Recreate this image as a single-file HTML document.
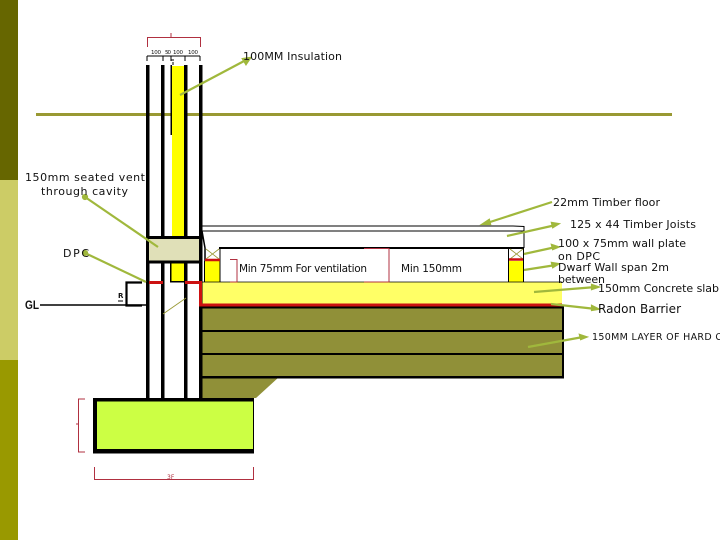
<!DOCTYPE html>
<html><head><meta charset="utf-8"><style>
html,body{margin:0;padding:0;background:#fff}
svg{display:block}
text{font-family:"DejaVu Sans",sans-serif;font-size:11px;fill:#111}
</style></head><body>
<svg width="720" height="540" viewBox="0 0 720 540" xmlns="http://www.w3.org/2000/svg">
<rect x="0" y="0" width="18" height="180" fill="#666600"/>
<rect x="0" y="180" width="18" height="180" fill="#cccc66"/>
<rect x="0" y="360" width="18" height="180" fill="#999900"/>
<rect x="36" y="113" width="636" height="3" fill="#999933"/>

<!-- fills -->
<rect x="172" y="66" width="12" height="172" fill="#ffff00"/>
<rect x="171" y="262" width="13" height="20" fill="#ffff00"/>
<rect x="201" y="282" width="361" height="24" fill="#ffff66"/>
<rect x="201" y="306" width="362" height="71" fill="#909038"/>
<polygon points="201,377 279,377 256,398 201,398" fill="#909038"/>
<rect x="205" y="261" width="15" height="21" fill="#ffff00"/>
<rect x="509" y="261" width="14" height="21" fill="#ffff00"/>

<!-- walls -->
<g fill="#000">
<rect x="146" y="65" width="3.500" height="333"/>
<rect x="161" y="65" width="3.500" height="333"/>
<rect x="184" y="65" width="3.500" height="333"/>
<rect x="199" y="65" width="3.500" height="333"/>
<rect x="170.500" y="65" width="1.500" height="70"/>
<rect x="170" y="262" width="1.500" height="20"/>
<rect x="170" y="281" width="15" height="1.500"/>
</g>
<rect x="149" y="238" width="50" height="24" fill="#e0e0b8"/>
<g fill="#000">
<rect x="146" y="236" width="56" height="3"/>
<rect x="146" y="260.500" width="56" height="3"/>
<!-- hardcore lines -->
<rect x="201" y="306.500" width="362" height="2"/>
<rect x="201" y="330" width="362" height="2"/>
<rect x="201" y="353" width="362" height="2"/>
<rect x="201" y="376" width="363" height="2.500"/>
<rect x="562" y="306" width="2" height="72"/>
<!-- foundation -->
<rect x="93" y="398" width="161" height="55.500"/>
</g>
<rect x="97" y="401.500" width="156" height="47.500" fill="#ccff44"/>

<!-- floor -->
<g fill="none" stroke="#000">
<path d="M202 226H513L524 226.500V248" stroke-width="1"/>
<path d="M202 231H524" stroke-width="1"/>
<path d="M219 248H524" stroke-width="2"/>
<path d="M202 231L205 248V261" stroke-width="1.500"/>
<path d="M220 248V282M508.500 248V282M523.500 248V282M204.500 261V282" stroke-width="1"/>
<path d="M202 282H562" stroke-width="0.800"/>
</g>
<g stroke="#999933" stroke-width="0.800" fill="none">
<path d="M206 249L219 259M219 249L206 259M510 249L523 259M523 249L510 259"/>
<path d="M163 314L186 298"/>
</g>
<!-- red -->
<g fill="none" stroke="#cc1111">
<path d="M149 282.500H163M185 282.500H200.500V305H562" stroke-width="3"/>
<path d="M205 260H220M509 259.500H523" stroke-width="2.500"/>
</g>
<!-- red dimensions -->
<g fill="none" stroke="#b03040" stroke-width="1">
<path d="M147.500 47V37.500H200.500V47M171 37V33"/>
<path d="M230 259.500H237V282H230"/>
<path d="M364 248.500H389V282H364"/>
<path d="M85 399H78.500V452H85M78.500 424H76"/>
<path d="M94.500 467V479.500H253.500V467"/>
</g>
<text x="167" y="479" style="font-size:6px;fill:#b03040">3F</text>

<!-- black dims -->
<g fill="none" stroke="#000" stroke-width="1">
<path d="M147 56H200M147 56V61M163 56V61M185 56V61M200 56V61M171 56V61"/>
<path d="M173 62V65M171.500 60H174"/>
</g>
<text x="151" y="54" style="font-size:5.500px" textLength="10">100</text>
<text x="165" y="54" style="font-size:5.500px" textLength="6">50</text>
<text x="173" y="54" style="font-size:5.500px" textLength="10">100</text>
<text x="188" y="54" style="font-size:5.500px" textLength="10">100</text>

<!-- GL -->
<path d="M40 305H147" stroke="#000" stroke-width="1.500"/>
<path d="M142 282.500H126.500V305.500H142" fill="none" stroke="#000" stroke-width="2.200"/>
<text x="118" y="298" style="font-size:7px;font-weight:bold">R</text>
<path d="M118 301H123" stroke="#000"/>
<text x="25" y="309" style="font-family:'Liberation Sans',sans-serif;font-size:12px;font-weight:bold" textLength="14" lengthAdjust="spacingAndGlyphs">GL</text>

<!-- leaders -->
<g stroke="#a0b83c" stroke-width="2.200" fill="#a0b83c">
<path d="M180 95L246 60"/><polygon points="250,58 243,59 246,64"/>
<path d="M85 197L158 247"/><circle cx="85" cy="197" r="2"/>
<path d="M85 253L146 282"/><circle cx="85" cy="253" r="2"/>
<path d="M487 223L552 202"/><polygon points="483,224 489,220 490,224"/>
<path d="M507 236L556 225"/><polygon points="558,224 552,223 553,227"/>
<path d="M524 254L556 247"/><polygon points="558,247 552,245 553,249"/>
<path d="M524 270L556 265"/><polygon points="558,264 552,263 553,267"/>
<path d="M534 292L596 287"/><polygon points="598,287 592,285 592,289"/>
<path d="M551 304L596 309"/><polygon points="598,309 592,306 592,310"/>
<path d="M528 347L583 337"/><polygon points="586,337 580,335 581,339"/>
</g>

<!-- labels -->
<text x="243" y="60" textLength="99">100MM Insulation</text>
<text x="25" y="181" textLength="120">150mm seated vent</text>
<text x="41" y="195" textLength="87">through cavity</text>
<text x="63" y="257" textLength="26">DPC</text>
<text x="553" y="206" textLength="107">22mm Timber floor</text>
<text x="570" y="228" textLength="126">125 x 44 Timber Joists</text>
<text x="558" y="247" textLength="128">100 x 75mm wall plate</text>
<text x="558" y="260" textLength="42">on DPC</text>
<text x="558" y="271" textLength="111">Dwarf Wall span 2m</text>
<text x="558" y="283" textLength="47">between</text>
<text x="598" y="292" textLength="121">150mm Concrete slab</text>
<text x="598" y="313" style="font-size:12px" textLength="83">Radon Barrier</text>
<text x="592" y="340" style="font-size:9.500px" textLength="130">150MM LAYER OF HARD C</text>
<text x="239" y="272" style="font-size:10.500px" textLength="128">Min 75mm For ventilation</text>
<text x="401" y="272" style="font-size:10.500px" textLength="61">Min 150mm</text>
</svg>
</body></html>
